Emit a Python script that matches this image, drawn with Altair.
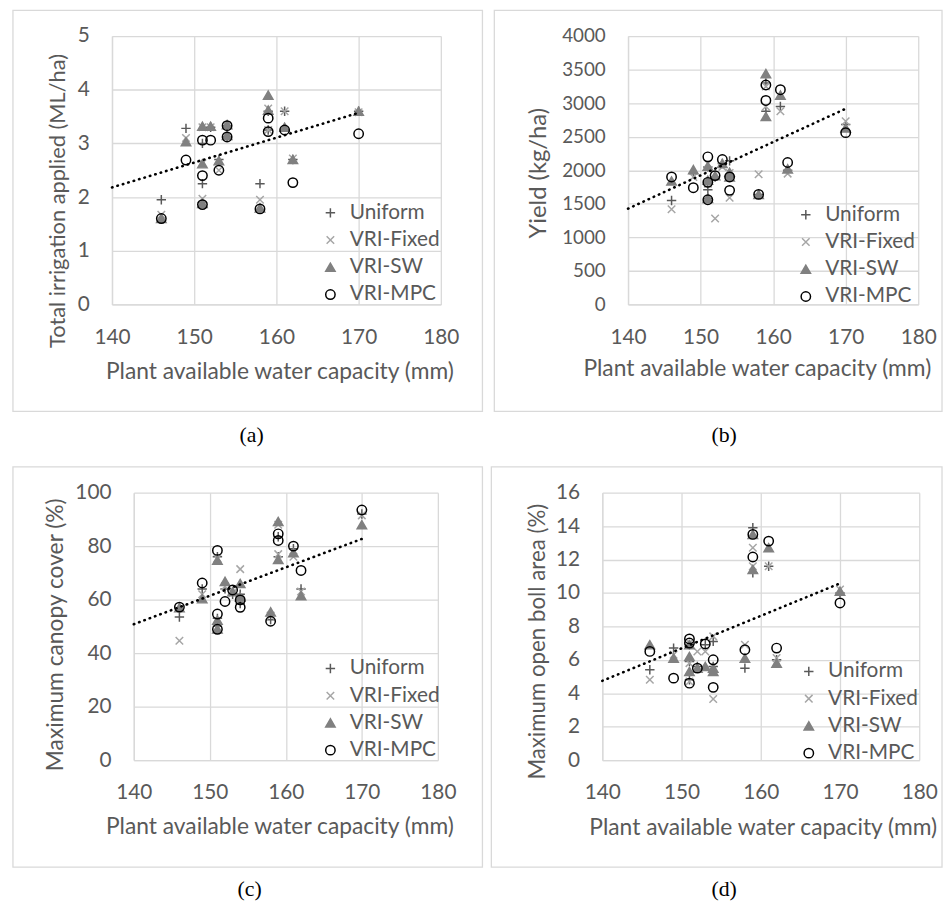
import altair as alt
import pandas as pd

SERIES = ["Uniform", "VRI-Fixed", "VRI-SW", "VRI-MPC"]
PAWC = [146, 149, 151, 151, 151, 152, 153, 154, 154, 158, 159, 159, 161, 162, 170]
X_TICKS = [140, 150, 160, 170, 180]
TREND_X = [140, 170]

# (a) Total irrigation applied (ML/ha)
IRR_UNIFORM = [1.95, 3.28, 3.00, 2.25, 1.90, 3.30, 2.70, 3.33, 3.12, 2.25, 3.60, 3.25, 3.60, 2.70, 3.60]
IRR_FIXED = [1.67, 3.10, 3.30, 2.63, 1.97, 3.30, 2.50, 3.33, 3.12, 1.95, 3.65, 3.25, 3.60, 2.72, 3.58]
IRR_SW = [1.60, 3.03, 3.32, 2.62, 1.88, 3.32, 2.68, 3.35, 3.15, 1.80, 3.90, 3.62, 3.30, 2.70, 3.60]
IRR_MPC = [1.60, 2.69, 3.06, 2.40, 1.86, 3.06, 2.50, 3.33, 3.12, 1.78, 3.47, 3.22, 3.25, 2.27, 3.18]
IRR_TREND = [2.18, 3.57]

# (b) Yield (kg/ha)
YLD_UNIFORM = [1550, 1950, 2050, 1710, 1580, 1900, 2100, 2140, 1900, 1640, 3300, 2880, 2950, 2000, 2680]
YLD_FIXED = [1420, 1900, 2100, 1800, 1560, 1280, 2050, 1960, 1590, 1940, 3250, 2950, 2880, 1950, 2730]
YLD_SW = [1840, 2010, 2060, 1850, 1580, 1920, 2100, 1970, 1900, 1640, 3440, 2800, 3120, 2020, 2630]
YLD_MPC = [1900, 1740, 2200, 1820, 1560, 1920, 2160, 1900, 1700, 1640, 3270, 3040, 3200, 2115, 2560]
YLD_TREND = [1427, 2917]

# (c) Maximum canopy cover (%)
CAN_UNIFORM = [53.5, 64.0, 76.0, 53.0, 50.0, 64.0, 62.0, 62.0, 58.5, 52.5, 83.5, 76.0, 79.0, 64.0, 92.0]
CAN_FIXED = [44.6, 62.0, 75.5, 52.0, 49.5, 65.0, 62.5, 71.4, 60.0, 54.0, 88.0, 77.0, 76.0, 63.0, 91.5]
CAN_SW = [57.0, 60.3, 74.7, 52.3, 49.0, 66.8, 63.0, 66.0, 61.0, 55.4, 89.2, 75.0, 77.5, 61.5, 88.0]
CAN_MPC = [57.2, 66.2, 78.4, 54.6, 48.9, 59.3, 63.6, 59.9, 57.1, 51.9, 84.6, 82.1, 80.0, 70.9, 93.5]
CAN_TREND = [50.8, 82.7]

# (d) Maximum open boll area (%)
BOL_UNIFORM = [5.4, 6.7, 6.9, 5.9, 4.8, 5.6, 6.9, 7.1, 5.6, 5.5, 13.9, 11.2, 11.6, 6.0, 10.0]
BOL_FIXED = [4.8, 6.3, 7.0, 5.8, 4.7, 6.5, 6.5, 7.4, 3.65, 6.9, 12.7, 11.6, 11.6, 6.1, 10.2]
BOL_SW = [6.9, 6.1, 6.9, 6.2, 5.3, 5.5, 5.6, 5.5, 5.3, 6.1, 13.5, 11.4, 12.7, 5.8, 10.1]
BOL_MPC = [6.5, 4.9, 7.25, 7.0, 4.6, 5.5, 6.95, 6.0, 4.35, 6.6, 13.5, 12.15, 13.1, 6.7, 9.4]
BOL_TREND = [4.74, 10.57]

SHAPES = ["M-1,0L1,0M0,-1L0,1", "M-0.8,-0.8L0.8,0.8M-0.8,0.8L0.8,-0.8", "triangle-up", "circle"]
STROKES = ["#595959", "#A6A6A6", "#808080", "#000000"]
FILLS = ["transparent", "transparent", "#808080", "transparent"]

TXT = "#595959"
GRID = "#D9D9D9"
FONT = "Lato"


def panel(series_values, trend, ytitle, ymax, ystep, caption, g):
    rows = []
    for s, vals in zip(SERIES, series_values):
        for p, v in zip(PAWC, vals):
            rows.append({"pawc": p, "value": v, "series": s})
    df = pd.DataFrame(rows)
    xo, pw, h = g["xo"], g["pw"], g["h"]

    xscale = alt.Scale(domain=[140, 180], range=[xo, xo + pw], nice=False, zero=False)
    yscale = alt.Scale(domain=[0, ymax], nice=False)
    yvals = list(range(0, ymax + 1, ystep))

    xaxis = alt.Axis(values=X_TICKS, title="Plant available water capacity (mm)", grid=True,
                     ticks=False, tickSize=0, labelPadding=22, labelFlush=False, labelOverlap=False,
                     titleFontSize=23, titleX=xo + g["xtx"], titleY=g["xty"],
                     titleBaseline="middle", titleAlign="center")
    yaxis = alt.Axis(values=yvals, title=ytitle, grid=True, ticks=False, tickSize=0, format="d",
                     labelPadding=23, labelFlush=False, labelOverlap=False, offset=-xo,
                     labelFontSize=g.get("ylfs", 21), titleFontSize=g["ytfs"],
                     titleX=g["ytx"], titleY=g["yty"], titleBaseline="middle", titleAlign="center")

    frame = alt.Chart(alt.Data(values=[{"k": 1}])).mark_rect(
        fill="transparent", stroke=GRID, strokeWidth=1.3
    ).encode(
        x=alt.value(xo - g["fl"]), x2=alt.value(xo + pw + g["fr"]),
        y=alt.value(-g["ft"]), y2=alt.value(h + g["fb"]),
    )

    cap = alt.Chart(alt.Data(values=[{"t": caption}])).mark_text(
        font="Liberation Serif", fontSize=22, color="black", baseline="middle", align="center"
    ).encode(text="t:N", x=alt.value(xo + g["cx"]), y=alt.value(g["cy"]))

    leg = alt.Legend(orient="none", legendX=xo + g["lx"], legendY=g["ly"], title=None,
                     labelFont=FONT, labelFontSize=21, labelColor=TXT, symbolSize=90,
                     symbolStrokeWidth=1.5, rowPadding=5.5, labelOffset=9, padding=0)

    pts = alt.Chart(df).mark_point(size=90, strokeWidth=1.5, opacity=1).encode(
        x=alt.X("pawc:Q", scale=xscale, axis=xaxis),
        y=alt.Y("value:Q", scale=yscale, axis=yaxis),
        shape=alt.Shape("series:N", scale=alt.Scale(domain=SERIES, range=SHAPES), legend=leg),
        stroke=alt.Stroke("series:N", scale=alt.Scale(domain=SERIES, range=STROKES), legend=leg),
        fill=alt.Fill("series:N", scale=alt.Scale(domain=SERIES, range=FILLS), legend=leg),
    )

    tdf = pd.DataFrame({"pawc": TREND_X, "value": trend})
    line = alt.Chart(tdf).mark_line(color="black", strokeWidth=2.6, strokeDash=[0.5, 5.2],
                                    strokeCap="round").encode(
        x=alt.X("pawc:Q", scale=xscale, axis=xaxis),
        y=alt.Y("value:Q", scale=yscale, axis=yaxis),
    )

    return alt.layer(frame, pts, line, cap).properties(width=xo + pw, height=h)


ga = dict(xo=0, pw=332, h=271, fl=100, fr=42, ft=26, fb=108, ytx=-55, yty=166, ytfs=22,
          xtx=169, xty=68, lx=210, ly=168, cx=141, cy=403)
gb = dict(xo=26, pw=293, h=271, fl=135, fr=24, ft=26, fb=108, ytx=-90, yty=138, ytfs=24,
          xtx=130, xty=65, lx=169, ly=170, ylfs=19, cx=97, cy=403)
gc = dict(xo=22, pw=307, h=270, fl=122, fr=45, ft=26, fb=108, ytx=-79, yty=143, ytfs=23,
          xtx=147, xty=67, lx=188, ly=167, cx=117, cy=400)
gd = dict(xo=0, pw=320, h=270, fl=112, fr=23, ft=26, fb=108, ytx=-65, yty=150, ytfs=22.5,
          xtx=162, xty=68, lx=198, ly=170, cx=123, cy=400)

pa = panel([IRR_UNIFORM, IRR_FIXED, IRR_SW, IRR_MPC], IRR_TREND, "Total irrigation applied (ML/ha)", 5, 1, "(a)", ga)
pb = panel([YLD_UNIFORM, YLD_FIXED, YLD_SW, YLD_MPC], YLD_TREND, "Yield (kg/ha)", 4000, 500, "(b)", gb)
pc = panel([CAN_UNIFORM, CAN_FIXED, CAN_SW, CAN_MPC], CAN_TREND, "Maximum canopy cover (%)", 100, 20, "(c)", gc)
pd_ = panel([BOL_UNIFORM, BOL_FIXED, BOL_SW, BOL_MPC], BOL_TREND, "Maximum open boll area (%)", 16, 2, "(d)", gd)

ind = dict(shape="independent", stroke="independent", fill="independent", x="independent", y="independent")
lind = dict(shape="independent", stroke="independent", fill="independent")

chart = alt.concat(pa, pb, pc, pd_, columns=2,
                   spacing={"row": 20, "column": 7}).resolve_scale(
    **ind
).resolve_legend(**lind).properties(
    padding={"left": 4, "top": -3, "right": 0, "bottom": -2},
    background="white",
).configure_view(stroke=None).configure_axis(
    gridColor=GRID, gridWidth=1.3, domainColor=GRID, domainWidth=1.3,
    labelFont=FONT, labelFontSize=21, labelColor=TXT,
    titleFont=FONT, titleFontSize=22, titleColor=TXT, titleFontWeight="normal",
)

chart.save("out.html", embed_options={"renderer": "svg", "actions": False})
